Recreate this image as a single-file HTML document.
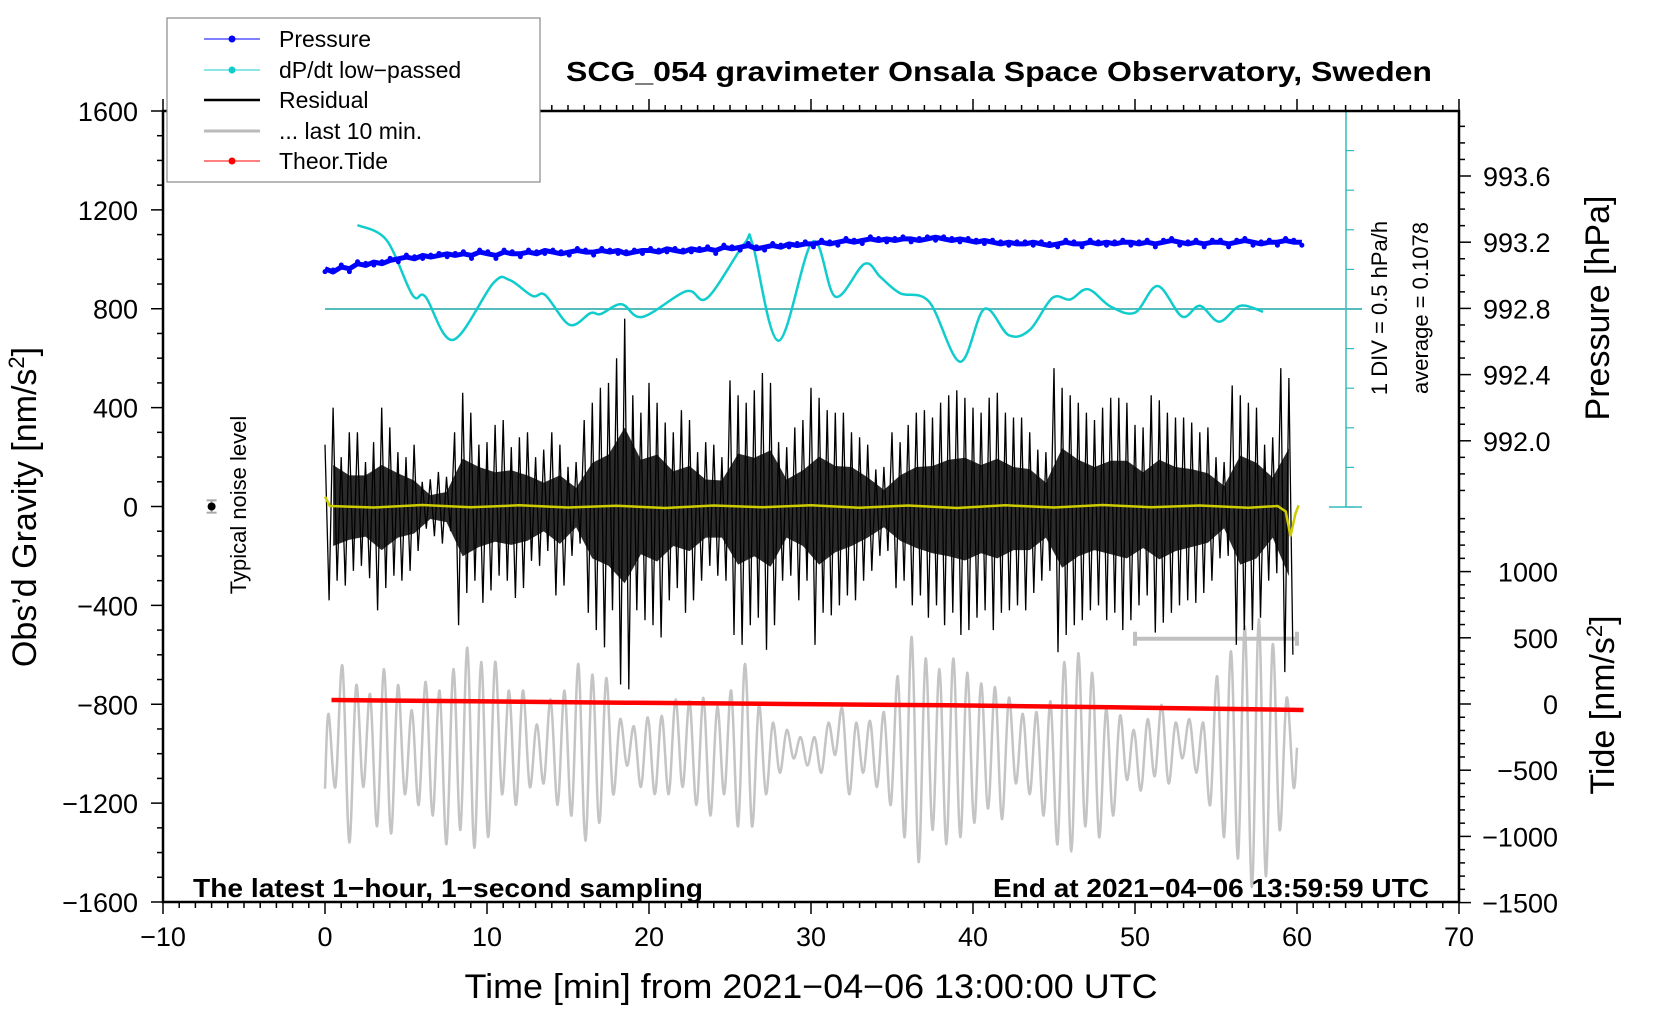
<!DOCTYPE html>
<html><head><meta charset="utf-8"><style>
html,body{margin:0;padding:0;background:#fff;}
svg{display:block;font-family:"Liberation Sans",Arial,sans-serif;}
</style></head><body>
<svg id="chart" width="1660" height="1020" viewBox="0 0 1660 1020" xmlns="http://www.w3.org/2000/svg">
<rect x="0" y="0" width="1660" height="1020" fill="#fff"/>
<g id="ticks"></g>
<g id="plot"></g>
<rect x="163" y="111" width="1296" height="791" fill="none" stroke="#000" stroke-width="2.5"/>
<text x="999" y="81" font-size="28" font-weight="bold" text-anchor="middle" textLength="866" lengthAdjust="spacingAndGlyphs">SCG_054 gravimeter Onsala Space Observatory, Sweden</text>
<text x="193" y="897" font-size="26" font-weight="bold" textLength="510" lengthAdjust="spacingAndGlyphs">The latest 1−hour, 1−second sampling</text>
<text x="1429" y="897" font-size="26" font-weight="bold" text-anchor="end" textLength="436" lengthAdjust="spacingAndGlyphs">End at 2021−04−06 13:59:59 UTC</text>
<text x="811" y="998" font-size="34" text-anchor="middle" textLength="693" lengthAdjust="spacingAndGlyphs">Time [min] from 2021−04−06 13:00:00 UTC</text>
<text transform="translate(36,507) rotate(-90)" font-size="34" text-anchor="middle">Obs’d Gravity [nm/s<tspan font-size="22" dy="-12">2</tspan><tspan dy="12">]</tspan></text>
<text transform="translate(1609,308) rotate(-90)" font-size="34" text-anchor="middle">Pressure [hPa]</text>
<text transform="translate(1614,705) rotate(-90)" font-size="34" text-anchor="middle">Tide [nm/s<tspan font-size="22" dy="-12">2</tspan><tspan dy="12">]</tspan></text>
<text transform="translate(1387,308) rotate(-90)" font-size="22" text-anchor="middle">1 DIV = 0.5 hPa/h</text>
<text transform="translate(1428,308) rotate(-90)" font-size="22" text-anchor="middle">average = 0.1078</text>
<text transform="translate(246,505) rotate(-90)" font-size="22" text-anchor="middle">Typical noise level</text>
<g>
<rect x="167" y="18" width="373" height="164" fill="#fff" stroke="#888" stroke-width="1.2"/>
<g><line x1="204" y1="39" x2="260" y2="39" stroke="#00f" stroke-width="1"/><circle cx="232" cy="39" r="3.5" fill="#00f"/><text x="279" y="47" font-size="23">Pressure</text></g>
<g><line x1="204" y1="70" x2="260" y2="70" stroke="#1cc" stroke-width="1"/><circle cx="232" cy="70" r="3.5" fill="#1cc"/><text x="279" y="78" font-size="23">dP/dt low−passed</text></g>
<g><line x1="204" y1="100" x2="260" y2="100" stroke="#000" stroke-width="2.5"/><text x="279" y="108" font-size="23">Residual</text></g>
<g><line x1="204" y1="131" x2="260" y2="131" stroke="#bbb" stroke-width="3"/><text x="279" y="139" font-size="23">... last 10 min.</text></g>
<g><line x1="204" y1="161" x2="260" y2="161" stroke="#f00" stroke-width="1"/><circle cx="232" cy="161" r="3.5" fill="#f00"/><text x="279" y="169" font-size="23">Theor.Tide</text></g>
</g>
</svg>
<script>
// ---- data ----
const xTicks=[-10,0,10,20,30,40,50,60,70];
const gTicks=[-1600,-1200,-800,-400,0,400,800,1200,1600];
const pTicks=[992.0,992.4,992.8,993.2,993.6];
const tideTicks=[-1500,-1000,-500,0,500,1000];
// pressure (hPa), one value per 0.5 min
const pressure=[993.04,993.02,993.05,993.04,993.07,993.06,993.08,993.07,993.09,993.10,993.11,993.10,993.12,993.11,993.12,993.13,993.12,993.13,993.12,993.14,993.13,993.12,993.14,993.13,993.13,993.14,993.13,993.15,993.14,993.13,993.14,993.15,993.14,993.14,993.15,993.14,993.15,993.13,993.14,993.15,993.15,993.14,993.16,993.15,993.14,993.16,993.15,993.16,993.15,993.17,993.16,993.17,993.18,993.16,993.17,993.18,993.17,993.19,993.18,993.19,993.19,993.20,993.19,993.20,993.21,993.20,993.21,993.22,993.21,993.22,993.21,993.22,993.22,993.21,993.22,993.23,993.22,993.21,993.22,993.21,993.20,993.21,993.20,993.19,993.20,993.19,993.19,993.20,993.19,993.18,993.19,993.20,993.19,993.19,993.20,993.19,993.20,993.19,993.20,993.20,993.19,993.20,993.19,993.20,993.21,993.20,993.19,993.20,993.19,993.20,993.20,993.19,993.20,993.21,993.20,993.19,993.20,993.20,993.21,993.20,993.20];
// dP/dt low-passed in DIV units (1 DIV = 0.5 hPa/h), at given times
const dpTimes=[2.0,3.8,5.4,6.2,7.9,10.4,11.4,12.8,13.6,15.1,16.4,17.0,18.3,19.6,22.3,23.6,25.9,26.4,28.0,30.1,31.5,33.3,34.3,35.5,37.3,39.2,40.7,42.2,43.5,44.9,46.0,47.1,48.5,50.0,51.4,52.9,54.0,55.2,56.5,57.9];
const dpValues=[2.12,1.74,0.35,0.31,-0.78,0.66,0.73,0.33,0.35,-0.40,-0.10,-0.13,0.12,-0.20,0.45,0.28,1.66,1.63,-0.80,1.70,0.31,1.14,0.80,0.40,0.18,-1.33,0.00,-0.66,-0.53,0.28,0.24,0.50,0.06,-0.09,0.58,-0.19,0.08,-0.32,0.08,-0.07];
// residual gravity (nm/s^2), one value per 15 s
const residual=[250,-380,400,-300,200,-320,300,-260,300,-240,180,-290,260,-420,400,-330,320,-280,220,-300,200,-260,250,-180,100,-90,110,-120,140,-150,120,-100,300,-480,460,-350,380,-300,250,-390,260,-340,330,-280,350,-300,240,-370,280,-330,300,-220,200,-240,230,-180,300,-360,250,-320,160,-200,180,-150,350,-430,420,-500,480,-570,500,-420,600,-720,760,-740,450,-420,380,-460,500,-480,420,-530,340,-380,300,-330,390,-430,350,-380,220,-300,260,-240,250,-280,200,-300,510,-520,450,-560,420,-480,470,-450,540,-580,500,-480,260,-300,240,-280,320,-380,350,-300,480,-560,440,-430,390,-440,380,-400,380,-360,300,-380,280,-300,250,-260,150,-200,160,-180,300,-330,260,-300,330,-400,380,-360,390,-450,360,-400,420,-480,450,-430,470,-520,440,-500,400,-450,380,-420,440,-500,460,-430,380,-420,360,-400,360,-420,300,-350,230,-300,220,-260,560,-590,480,-520,450,-480,420,-460,380,-420,350,-400,400,-460,440,-430,440,-500,420,-460,330,-400,320,-360,450,-510,430,-470,380,-430,360,-400,360,-380,340,-390,300,-350,320,-300,200,-210,180,-200,490,-560,450,-500,420,-500,400,-450,250,-300,280,-270,560,-670,520,-600];
// yellow (smoothed residual), times and values
const yelTimes=[0,0.3,3,6,9,12,15,18,21,24,27,30,33,36,39,42,45,48,51,54,57,58.8,59.3,59.6,59.9,60.1];
const yelValues=[40,2,-4,6,-3,5,-4,3,-6,4,-3,5,-5,4,-6,5,-4,6,-3,4,-5,2,-20,-120,-30,5];
// theoretical tide (nm/s^2)
const tideTimes=[0.4,10,18.5,28.5,38.5,48.5,60.4];
const tideValues=[30,20,10,0,-10,-25,-45];
// last-10-min residual on tide axis, alternating peaks/troughs, evenly spaced over 0..60 min
const grayPeaks=[-74,290,141,74,263,141,-47,168,101,263,425,317,317,101,101,-155,34,101,303,222,195,-115,-169,-101,-88,34,20,47,-20,101,303,-7,-142,-196,-250,-250,-142,-34,-142,-128,-61,209,506,344,263,344,236,155,128,47,-74,-61,20,317,384,236,-34,-88,-196,-115,-7,-142,-115,-142,209,398,587,640,452,47];
const grayTroughs=[-627,-1045,-627,-924,-978,-681,-762,-843,-1059,-951,-1086,-1005,-681,-762,-627,-600,-762,-843,-1032,-897,-681,-465,-627,-681,-681,-627,-762,-843,-681,-924,-924,-681,-519,-411,-465,-519,-384,-681,-519,-627,-762,-1005,-1194,-951,-1059,-1005,-897,-789,-870,-600,-681,-843,-1059,-1113,-924,-1005,-843,-573,-654,-546,-600,-411,-519,-762,-1005,-1167,-1382,-1301,-951,-627];
const grayStart=-640;
const grayEnd=-330;
const bracketRange=[50,60];
const bracketLevel=-535;
const noiseLevel=[-7,0,25];

// ---- axes ----
const X=t=>325+t*16.2;
const G=g=>506.5-g*0.24719;
const P=p=>176+(993.6-p)*165.5;
const T=v=>704-v*0.1324;
const D=d=>309-d*39.6;
const NS='http://www.w3.org/2000/svg';
function mk(tag,attrs,parent){const e=document.createElementNS(NS,tag);for(const k in attrs)e.setAttribute(k,attrs[k]);parent.appendChild(e);return e;}
const ticks=document.getElementById('ticks');
const plot=document.getElementById('plot');
function tl(x1,y1,x2,y2,col,w,name){const l=mk('line',{x1,y1,x2,y2,stroke:col||'#000','stroke-width':w||1.5},ticks);

}
function lab(x,y,txt,anchor,name,size){const t=mk('text',{x,y,'font-size':size||27,'text-anchor':anchor},ticks);t.textContent=txt;

}
const minus=s=>String(s).replace('-','\u2212');
for(let t=-10;t<=70;t++){const maj=t%10===0;const x=X(t);tl(x,902,x,902+(maj?12:6),null,1.5,'x-tick');tl(x,111,x,111-(maj?12:6),null,1.5,'x-top-tick');}
xTicks.forEach(t=>lab(X(t),946,minus(t),'middle','x-tick-label'));
for(let g=-1600;g<=1600;g+=100){const y=G(g);tl(163,y,163-(g%400===0?12:6),y,null,1.5,'y-tick');}
gTicks.forEach(g=>lab(138,G(g)+10,minus(g),'end','y-tick-label'));
for(let k=9917;k<=9939;k++){const p=k/10;const y=P(p);const maj=(k%4===0);tl(1459,y,1459+(maj?12:6),y,null,1.5,'pressure-tick');}
pTicks.forEach(p=>lab(1483,P(p)+10,p.toFixed(1),'start','pressure-tick-label'));
for(let v=-1500;v<=1400;v+=100){const y=T(v);tl(1459,y,1459+(v%500===0?12:6),y,null,1.5,'tide-tick');}
tideTicks.forEach(v=>lab(1558,T(v)+10,minus(v),'end','tide-tick-label'));
tl(1346,111,1346,507,'#3bb',1.5,'div-axis');
for(let d=-5;d<=5;d++){const y=D(d);tl(1346,y,1354,y,'#3bb',1.2,'div-tick');}
tl(1329,111,1362,111,'#3bb',1.5,'div-cap-top');
tl(1329,507,1362,507,'#3bb',1.5,'div-cap-bottom');
tl(X(0),309,1362,309,'#5bb',2,'dpdt-baseline');

function smooth(pts){let d='M'+pts[0][0]+','+pts[0][1];for(let i=0;i<pts.length-1;i++){const p0=pts[Math.max(0,i-1)],p1=pts[i],p2=pts[i+1],p3=pts[Math.min(pts.length-1,i+2)];
const c1=[p1[0]+(p2[0]-p0[0])/6,p1[1]+(p2[1]-p0[1])/6],c2=[p2[0]-(p3[0]-p1[0])/6,p2[1]-(p3[1]-p1[1])/6];
d+=' C'+c1[0].toFixed(1)+','+c1[1].toFixed(1)+' '+c2[0].toFixed(1)+','+c2[1].toFixed(1)+' '+p2[0].toFixed(1)+','+p2[1].toFixed(1);}return d;}

const gpts=[[X(0),T(grayStart)]];const n=grayPeaks.length*2;
for(let i=0;i<grayPeaks.length;i++){gpts.push([X((2*i+0.5)*60/n),T(grayPeaks[i])]);gpts.push([X((2*i+1.5)*60/n),T(grayTroughs[i])]);}
gpts.push([X(60),T(grayEnd)]);
const gp=mk('path',{d:smooth(gpts),fill:'none',stroke:'#c4c4c4','stroke-width':2.5},plot);



const br=mk('g',{stroke:'#c0c0c0','stroke-width':4},plot);


const by=G(bracketLevel);
mk('line',{x1:X(bracketRange[0]),y1:by,x2:X(bracketRange[1]),y2:by},br);
mk('line',{x1:X(bracketRange[0]),y1:by-7,x2:X(bracketRange[0]),y2:by+7},br);
mk('line',{x1:X(bracketRange[1]),y1:by-7,x2:X(bracketRange[1]),y2:by+7},br);

const step=60/residual.length;
let up=[],lo=[];
for(let i=0;i<residual.length;i+=4){const ch=residual.slice(i,i+4);const t=(i+2)*step;up.push([X(t),G(Math.max(...ch)*0.42)]);lo.push([X(t),G(Math.min(...ch)*0.42)]);}
const band=mk('polygon',{points:up.concat(lo.reverse()).map(p=>p[0].toFixed(1)+','+p[1].toFixed(1)).join(' '),fill:'#2a2a2a'},plot);


const rp=mk('polyline',{points:residual.map((v,i)=>X(i*step).toFixed(1)+','+G(v).toFixed(1)).join(' '),fill:'none',stroke:'#000','stroke-width':1.3},plot);



const yp=mk('polyline',{points:yelTimes.map((t,i)=>X(t).toFixed(1)+','+G(yelValues[i]).toFixed(1)).join(' '),fill:'none',stroke:'#cc0','stroke-width':2.5},plot);



const tp=mk('polyline',{points:tideTimes.map((t,i)=>X(t).toFixed(1)+','+T(tideValues[i]).toFixed(1)).join(' '),fill:'none',stroke:'#f00','stroke-width':4.5},plot);



const dpts=dpTimes.map((t,i)=>[X(t),D(dpValues[i])]);
const dp=mk('path',{d:smooth(dpts),fill:'none',stroke:'#1cc','stroke-width':2.5},plot);



const pstep=60.3/(pressure.length-1);
const pp=mk('polyline',{points:pressure.map((p,i)=>X(i*pstep).toFixed(1)+','+P(p).toFixed(1)).join(' '),fill:'none',stroke:'#00f','stroke-width':5,'stroke-linejoin':'round'},plot);


pressure.forEach((p,i)=>{const c=mk('circle',{cx:X(i*pstep),cy:P(p)+(i%3===0?3:-2),r:2.5,fill:'#00f'},plot);

});

const nz=mk('g',{},plot);


const nx=X(noiseLevel[0]),ny=G(noiseLevel[1]),nh=noiseLevel[2]*0.24719;
mk('line',{x1:nx,y1:ny-nh,x2:nx,y2:ny+nh,stroke:'#aaa','stroke-width':2},nz);
mk('line',{x1:nx-5,y1:ny-nh,x2:nx+5,y2:ny-nh,stroke:'#aaa','stroke-width':2},nz);
mk('line',{x1:nx-5,y1:ny+nh,x2:nx+5,y2:ny+nh,stroke:'#aaa','stroke-width':2},nz);
mk('circle',{cx:nx,cy:ny,r:4,fill:'#000'},nz);
</script>
</body></html>
